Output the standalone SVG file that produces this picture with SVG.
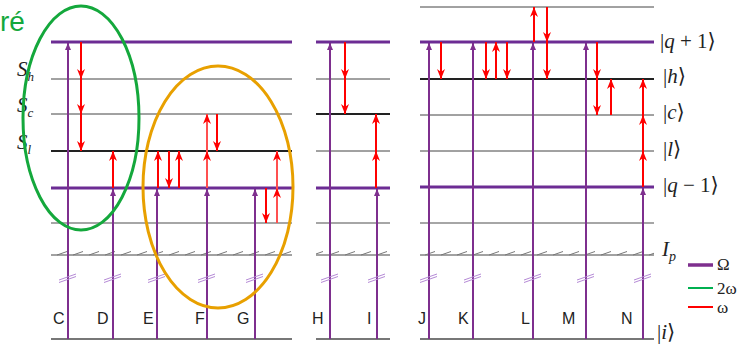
<svg xmlns="http://www.w3.org/2000/svg" width="746" height="345" viewBox="0 0 746 345">
<style>
.lvP{stroke:#6c2c94;stroke-width:3.2;fill:none}
.lvT{stroke:#444;stroke-width:1;fill:none}
.lvB{stroke:#222;stroke-width:1.8;fill:none}
.lvG{stroke:#888;stroke-width:1.5;fill:none}
.lvI{stroke:#777;stroke-width:2;fill:none}
.om{stroke:#7e2f8e;stroke-width:2;fill:none;marker-end:url(#ap)}
.w{stroke:#ff0000;stroke-width:2;fill:none;marker-end:url(#ar)}
.wl{stroke:#ff5050;stroke-width:2;fill:none;marker-end:url(#ar)}
.sl{stroke:#b58ad6;stroke-width:1;fill:none}
.lab{font-family:"Liberation Sans","Open Sans",sans-serif;font-size:16px;fill:#222}
.ket{font-family:"Liberation Serif","DejaVu Serif",serif;font-size:21px;fill:#222}
.it{font-style:italic}
.leg{font-family:"Liberation Serif","DejaVu Serif",serif;font-size:17px;fill:#222}
</style>
<defs>
<marker id="ar" viewBox="0 0 10 8" refX="10" refY="4" markerWidth="10" markerHeight="8" markerUnits="userSpaceOnUse" orient="auto">
<path d="M0,0 L10,4 L0,8 L3,4 z" fill="#ff0000"/>
</marker>
<marker id="ap" viewBox="0 0 7 6" refX="7" refY="3" markerWidth="7" markerHeight="6" markerUnits="userSpaceOnUse" orient="auto">
<path d="M0,0 L7,3 L0,6 z" fill="#7e2f8e"/>
</marker>
<pattern id="ticks" patternUnits="userSpaceOnUse" x="57" y="249" width="16" height="7">
<line x1="0" y1="6" x2="10" y2="2.5" stroke="#777" stroke-width="1"/>
</pattern>
</defs>
<rect width="746" height="345" fill="#fff"/>

<text x="0" y="31" font-family="Liberation Sans,Arial,sans-serif" font-size="28" fill="#14a83c">ré</text>

<g id="levels-left">
<line class="lvP" x1="51" y1="42" x2="292" y2="42"/>
<line class="lvT" x1="51" y1="79" x2="292" y2="79"/>
<line class="lvT" x1="51" y1="114" x2="292" y2="114"/>
<line class="lvB" x1="51" y1="151" x2="292" y2="151"/>
<line class="lvP" x1="51" y1="188" x2="292" y2="188"/>
<line class="lvG" x1="51" y1="223" x2="292" y2="223"/>
<line class="lvT" x1="51" y1="255" x2="292" y2="255"/>
<rect x="51" y="249" width="241" height="7" fill="url(#ticks)"/>
<line class="lvI" x1="51" y1="339" x2="292" y2="339"/>
</g>
<g id="levels-middle">
<line class="lvP" x1="316" y1="42" x2="390" y2="42"/>
<line class="lvT" x1="316" y1="79" x2="390" y2="79"/>
<line class="lvB" x1="316" y1="114" x2="390" y2="114"/>
<line class="lvT" x1="316" y1="151" x2="390" y2="151"/>
<line class="lvP" x1="316" y1="188" x2="390" y2="188"/>
<line class="lvG" x1="316" y1="223" x2="390" y2="223"/>
<line class="lvT" x1="316" y1="255" x2="390" y2="255"/>
<rect x="316" y="249" width="74" height="7" fill="url(#ticks)"/>
<line class="lvI" x1="316" y1="339" x2="390" y2="339"/>
</g>
<g id="levels-right">
<line class="lvT" x1="420" y1="7" x2="654" y2="7"/>
<line class="lvP" x1="420" y1="42" x2="654" y2="42"/>
<line class="lvB" x1="420" y1="79" x2="654" y2="79"/>
<line class="lvT" x1="420" y1="115" x2="654" y2="115"/>
<line class="lvT" x1="420" y1="151" x2="654" y2="151"/>
<line class="lvP" x1="420" y1="187" x2="654" y2="187"/>
<line class="lvG" x1="420" y1="223" x2="654" y2="223"/>
<line class="lvT" x1="420" y1="255" x2="654" y2="255"/>
<rect x="420" y="249" width="234" height="7" fill="url(#ticks)"/>
<line class="lvI" x1="420" y1="339" x2="654" y2="339"/>
</g>

<g id="level-labels">
<text class="ket" x="17" y="76"><tspan class="it">S</tspan><tspan class="it" font-size="13" dy="5">h</tspan></text>
<text class="ket" x="17" y="112"><tspan class="it">S</tspan><tspan class="it" font-size="13" dy="5">c</tspan></text>
<text class="ket" x="17" y="149"><tspan class="it">S</tspan><tspan class="it" font-size="13" dy="5">l</tspan></text>
<text class="ket" x="660" y="48">|<tspan class="it">q</tspan> + 1⟩</text>
<text class="ket" x="663" y="83">|<tspan class="it">h</tspan>⟩</text>
<text class="ket" x="663" y="119">|<tspan class="it">c</tspan>⟩</text>
<text class="ket" x="663" y="156">|<tspan class="it">l</tspan>⟩</text>
<text class="ket" x="663" y="192">|<tspan class="it">q</tspan> − 1⟩</text>
<text class="ket" x="662" y="256"><tspan class="it">I</tspan><tspan class="it" font-size="14" dy="5">p</tspan></text>
<text class="ket" x="657" y="339" font-size="20">|<tspan class="it">i</tspan>⟩</text>
</g>

<g id="connectors">
<line class="om" x1="68" y1="339" x2="68" y2="43"/>
<line class="om" x1="113" y1="339" x2="113" y2="189"/>
<line class="om" x1="157" y1="339" x2="157" y2="189"/>
<line class="om" x1="207" y1="339" x2="207" y2="189"/>
<line class="om" x1="255" y1="339" x2="255" y2="189"/>
<line class="om" x1="330" y1="339" x2="330" y2="43"/>
<line class="om" x1="377" y1="339" x2="377" y2="189"/>
<line class="om" x1="429" y1="339" x2="429" y2="43"/>
<line class="om" x1="473" y1="339" x2="473" y2="43"/>
<line class="om" x1="533" y1="339" x2="533" y2="43"/>
<line class="om" x1="586" y1="339" x2="586" y2="43"/>
<line class="om" x1="643" y1="339" x2="643" y2="188"/>
<g id="breaks">
<path class="sl" d="M59,280 L76,274 M59,282.5 L76,276.5"/>
<path class="sl" d="M104,280 L121,274 M104,282.5 L121,276.5"/>
<path class="sl" d="M148,280 L165,274 M148,282.5 L165,276.5"/>
<path class="sl" d="M198,280 L215,274 M198,282.5 L215,276.5"/>
<path class="sl" d="M246,280 L263,274 M246,282.5 L263,276.5"/>
<path class="sl" d="M321,280 L338,274 M321,282.5 L338,276.5"/>
<path class="sl" d="M368,280 L385,274 M368,282.5 L385,276.5"/>
<path class="sl" d="M420,280 L437,274 M420,282.5 L437,276.5"/>
<path class="sl" d="M464,280 L481,274 M464,282.5 L481,276.5"/>
<path class="sl" d="M524,280 L541,274 M524,282.5 L541,276.5"/>
<path class="sl" d="M577,280 L594,274 M577,282.5 L594,276.5"/>
<path class="sl" d="M634,280 L651,274 M634,282.5 L651,276.5"/>
</g>
<line class="w" x1="81" y1="42" x2="81" y2="79"/>
<line class="w" x1="81" y1="79" x2="81" y2="114"/>
<line class="w" x1="81" y1="114" x2="81" y2="151"/>
<line class="w" x1="113" y1="188" x2="113" y2="151"/>
<line class="w" x1="158" y1="188" x2="158" y2="151"/>
<line class="w" x1="169" y1="151" x2="169" y2="188"/>
<line class="w" x1="179" y1="188" x2="179" y2="151"/>
<line class="wl" x1="207" y1="188" x2="207" y2="151"/>
<line class="wl" x1="207" y1="151" x2="207" y2="114"/>
<line class="w" x1="217" y1="114" x2="217" y2="151"/>
<line class="w" x1="266" y1="188" x2="266" y2="223"/>
<line class="wl" x1="277" y1="223" x2="277" y2="188"/>
<line class="wl" x1="277" y1="188" x2="277" y2="151"/>
<line class="w" x1="345" y1="42" x2="345" y2="79"/>
<line class="w" x1="345" y1="79" x2="345" y2="114"/>
<line class="w" x1="376" y1="188" x2="376" y2="151"/>
<line class="w" x1="376" y1="151" x2="376" y2="114"/>
<line class="w" x1="441" y1="42" x2="441" y2="79"/>
<line class="w" x1="486" y1="42" x2="486" y2="79"/>
<line class="w" x1="496" y1="79" x2="496" y2="42"/>
<line class="w" x1="507" y1="42" x2="507" y2="79"/>
<line class="w" x1="534" y1="42" x2="534" y2="7"/>
<line class="w" x1="547" y1="7" x2="547" y2="42"/>
<line class="w" x1="547" y1="42" x2="547" y2="79"/>
<line class="w" x1="597" y1="42" x2="597" y2="79"/>
<line class="w" x1="597" y1="79" x2="597" y2="115"/>
<line class="w" x1="611" y1="115" x2="611" y2="79"/>
<line class="w" x1="643" y1="187" x2="643" y2="151"/>
<line class="w" x1="643" y1="151" x2="643" y2="115"/>
<line class="w" x1="643" y1="115" x2="643" y2="79"/>
</g>

<g id="path-labels">
<text class="lab" x="53" y="324">C</text>
<text class="lab" x="97" y="324">D</text>
<text class="lab" x="143" y="324">E</text>
<text class="lab" x="195" y="324">F</text>
<text class="lab" x="237" y="324">G</text>
<text class="lab" x="312" y="324">H</text>
<text class="lab" x="367" y="324">I</text>
<text class="lab" x="418" y="324">J</text>
<text class="lab" x="458" y="324">K</text>
<text class="lab" x="521" y="324">L</text>
<text class="lab" x="562" y="324">M</text>
<text class="lab" x="621" y="324">N</text>
</g>

<g id="groupings">
<ellipse id="green-group" cx="81" cy="118" rx="58" ry="112" fill="none" stroke="#14a83c" stroke-width="3"/>
<ellipse id="orange-group" cx="218" cy="187" rx="75" ry="121" fill="none" stroke="#e8a000" stroke-width="3"/>
</g>

<g id="legend">
<line x1="688" y1="265" x2="713" y2="265" stroke="#7e2f8e" stroke-width="3.5"/>
<text class="leg" x="717" y="270">Ω</text>
<line x1="688" y1="288" x2="713" y2="288" stroke="#00b050" stroke-width="2"/>
<text class="leg" x="717" y="294">2ω</text>
<line x1="688" y1="307" x2="713" y2="307" stroke="#ff0000" stroke-width="2"/>
<text class="leg" x="717" y="313">ω</text>
</g>
</svg>
